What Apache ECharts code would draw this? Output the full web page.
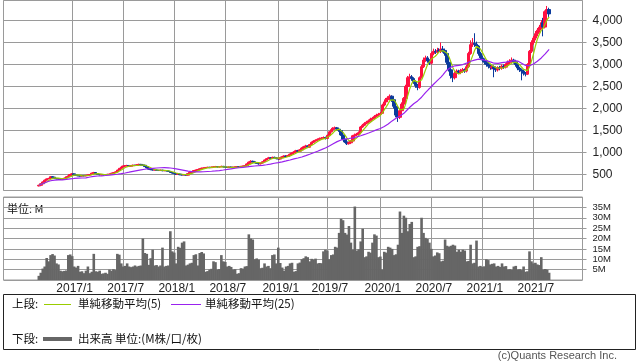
<!DOCTYPE html>
<html><head><meta charset="utf-8">
<script src="https://cdn.jsdelivr.net/npm/echarts@6/dist/echarts.min.js"></script>
<style>html,body{margin:0;padding:0;background:#fff}#c{width:638px;height:362px}</style>
</head><body><div id="c"></div>
<script>
// weekly categories (Mondays) of the axis
const weekStart = '2016-05-02';
const weekCount = 296;
const firstDataWeek = 18; // 2016-09-05

const tickDates = ['2017-01-02','2017-07-03','2018-01-01','2018-07-02','2019-01-07','2019-07-01','2020-01-06','2020-07-06','2021-01-04','2021-07-05'];
const tickLabels = ['2017/1','2017/7','2018/1','2018/7','2019/1','2019/7','2020/1','2020/7','2021/1','2021/7'];

const closes = [
255,290,330,370,400,410,450,440,410,400,
395,390,400,420,450,470,500,515,490,480,
470,465,475,470,480,490,500,530,545,520,
500,490,495,490,500,505,510,530,545,560,
600,640,670,690,700,705,690,700,710,705,
720,730,715,710,680,650,620,610,600,605,
595,590,600,585,590,580,570,545,530,520,
505,510,495,490,500,485,520,550,565,590,
600,615,630,645,650,660,665,655,670,675,
680,670,675,685,670,665,660,670,655,665,
670,680,675,685,690,700,740,780,800,790,
770,750,740,760,790,830,860,880,870,890,
880,860,850,880,900,920,910,930,960,990,
1010,1040,1030,1060,1100,1130,1150,1120,1180,1230,
1260,1280,1300,1320,1330,1340,1320,1390,1470,1520,
1550,1560,1530,1500,1400,1300,1240,1200,1220,1260,
1380,1400,1420,1450,1580,1620,1660,1690,1720,1760,
1780,1820,1850,1870,1890,2080,2150,2200,2240,2280,
2200,2050,1850,1800,1950,2100,2230,2500,2700,2720,
2680,2600,2520,2480,2700,2950,3100,3150,3080,3030,
3250,3300,3280,3320,3300,3350,3320,3250,3050,2880,
2750,2700,2800,2850,2820,2860,2880,2850,2950,3250,
3450,3480,3460,3420,3250,3150,3100,3050,3000,2960,
2930,2950,2900,2880,2930,2920,2960,2940,3000,3050,
3080,3100,3060,3000,2920,2880,2850,2800,2780,3000,
3300,3500,3600,3700,3780,3850,3950,3850,4200,4250,
4150];

const opens = [
240,255,290,330,370,400,410,450,440,410,
400,395,390,400,420,450,470,500,515,490,
480,470,465,475,470,480,490,500,530,545,
520,500,490,495,490,500,505,510,530,545,
560,600,640,670,690,700,705,690,700,710,
705,720,730,715,710,680,650,620,610,600,
605,595,590,600,585,590,580,570,545,530,
520,505,510,495,490,500,485,520,550,565,
590,600,615,630,645,650,660,665,655,670,
675,680,670,675,685,670,665,660,670,655,
665,670,680,675,685,690,700,740,780,800,
790,770,750,740,760,790,830,860,880,870,
890,880,860,850,880,900,920,910,930,960,
990,1010,1040,1030,1060,1100,1130,1150,1120,1180,
1230,1260,1280,1300,1320,1330,1340,1320,1390,1470,
1520,1550,1560,1530,1500,1400,1300,1240,1200,1220,
1260,1380,1400,1420,1450,1580,1620,1660,1690,1720,
1760,1780,1820,1850,1870,1890,2080,2150,2200,2240,
2280,2200,2050,1850,1800,1950,2100,2230,2500,2700,
2720,2680,2600,2520,2480,2700,2950,3100,3150,3080,
3030,3250,3300,3280,3320,3300,3350,3320,3250,3050,
2880,2750,2700,2800,2850,2820,2860,2880,2850,2950,
3250,3450,3480,3460,3420,3250,3150,3100,3050,3000,
2960,2930,2950,2900,2880,2930,2920,2960,2940,3000,
3050,3080,3100,3060,3000,2920,2880,2850,2800,2780,
3000,3300,3500,3600,3700,3780,3850,3950,3850,4200,
4250];

const highs = [
265,300,340,385,410,425,465,460,445,420,
410,405,410,430,460,480,510,530,520,500,
490,480,485,485,490,500,510,540,560,550,
525,505,505,505,510,515,520,540,555,570,
610,650,680,700,715,720,715,710,725,720,
735,745,740,725,715,685,655,630,620,615,
615,605,610,605,600,600,590,575,555,540,
525,520,515,505,510,505,525,560,575,600,
610,625,640,655,660,670,675,675,680,685,
695,690,685,700,695,680,675,680,680,675,
680,690,690,695,700,715,750,795,825,815,
800,780,760,770,800,840,875,900,895,905,
905,890,870,890,915,935,935,945,975,1005,
1030,1060,1060,1075,1120,1150,1175,1160,1195,1250,
1280,1300,1320,1340,1350,1365,1360,1410,1490,1545,
1575,1590,1580,1550,1510,1420,1320,1260,1245,1280,
1400,1430,1445,1480,1600,1650,1690,1720,1750,1790,
1810,1850,1880,1900,1920,2110,2180,2240,2280,2320,
2300,2230,2080,1900,1980,2140,2260,2540,2740,2790,
2760,2710,2640,2560,2730,2990,3160,3200,3190,3120,
3290,3360,3350,3380,3370,3500,3420,3360,3280,3080,
2910,2790,2830,2890,2880,2900,2920,2910,2990,3290,
3550,3600,3710,3520,3440,3290,3200,3140,3090,3040,
3000,2990,2980,2940,2960,2970,3000,3000,3030,3090,
3120,3160,3130,3090,3030,2950,2910,2880,2830,3030,
3330,3550,3650,3760,3830,3900,4010,4060,4230,4330,
4290];

const lows = [
230,250,285,320,360,390,405,430,400,390,
385,380,380,395,415,445,465,495,485,470,
460,455,458,462,462,472,482,495,525,510,
490,482,482,480,482,492,498,505,522,538,
552,592,630,660,680,688,678,680,690,692,
695,710,705,698,670,640,610,598,590,590,
585,580,580,575,575,570,560,535,520,510,
495,495,485,480,482,475,478,512,540,558,
580,592,605,620,635,642,650,645,648,660,
665,660,660,668,660,655,650,650,645,645,
655,660,665,665,675,680,692,730,770,775,
755,738,725,730,750,780,820,850,855,860,
865,845,830,840,870,890,895,900,920,950,
975,1000,1015,1020,1050,1085,1115,1100,1110,1170,
1215,1245,1265,1285,1300,1310,1295,1305,1380,1455,
1500,1530,1510,1470,1380,1280,1220,1170,1180,1200,
1250,1360,1380,1400,1440,1560,1600,1640,1670,1700,
1740,1760,1800,1830,1850,1880,2050,2120,2170,2200,
2150,2000,1800,1695,1760,1920,2070,2200,2460,2650,
2630,2560,2470,2415,2450,2680,2920,3060,3040,2990,
3000,3210,3240,3240,3260,3260,3270,3200,3000,2840,
2680,2600,2660,2760,2780,2780,2820,2810,2820,2920,
3220,3400,3400,3360,3200,3100,3050,3000,2950,2910,
2880,2890,2710,2830,2840,2870,2880,2900,2910,2960,
3010,3040,3020,2950,2870,2830,2640,2750,2730,2760,
2980,3260,3450,3550,3640,3720,3800,3640,3820,4120,
4080];

// volume, millions of shares
const volumes = [
2,3.5,5.5,6.5,10.6,9,12,12.5,11.8,8,
7.5,4.5,4.2,4.4,4.6,12,12.3,11.5,6.5,6,
6.8,4,4.2,3.3,4.5,6.5,3.3,4,12.6,4.2,
4,4.5,3,3.2,3.5,3,5,4.5,5.2,4.8,
12.6,12.2,8,6.5,6.8,8,6.5,6.2,6.5,7,
6.5,6.8,7,20,13,12.6,7.3,10.5,14.6,7,
7.2,6.5,7,15.6,6.5,6.8,7,23.5,13.8,13.2,
8,16,15.5,18,18.6,7,7.4,8,8.3,12,
12.4,7,13,13.5,12.8,4,4.3,5,5.4,9,
8.6,5,5.3,12,9,8.7,6.5,6.8,6.3,5,
5.2,3,3.3,5.7,5.5,6.5,6.7,22,20,19.5,
10,10.4,9.8,5.7,5.9,8,6.5,6.8,5.7,12,
12.3,8,15.6,8.2,6,4.5,6.5,6.8,8,8.3,
4,4.3,8,8.4,10,10.5,11.4,11,9,10.2,
9.8,10.3,8,8.2,8.1,13.8,14.6,14.2,10,12,
12.3,16,15.6,22.7,29.5,28.8,22.7,21.9,26,18,
14.6,35.4,14.2,14.8,18.6,24.7,11,11.4,13.6,13.2,
18,22,21.4,11,11.3,5,13.6,13.2,16,15.6,
15,12,12.4,17,33,22.7,31,30,23.5,27,
28,11,11.4,16,16.3,30,22.7,20.3,19.8,18,
15,11.4,11.8,13.3,12.9,9,9.3,19.5,16.5,16.1,
16.5,17,16.6,13.6,14.6,13.6,14.6,14.2,9,9.2,
17,8,8.3,19,6.5,6.8,6.3,6.6,10,9.6,
7.5,7.8,8,6.5,6.8,6.3,8,6.5,6.7,5,
5.2,4.9,6.5,6.8,5,5.2,4.8,6.5,4,4.2,
13.8,9,8,8.3,7.5,7.2,11,5,5.3,5,
3.5];

// ---- build category axis & padded series ----
const categories = [];
{
  const d0 = new Date(weekStart + 'T00:00:00Z');
  for (let i = 0; i < weekCount; i++) {
    const d = new Date(d0.getTime() + i * 7 * 86400000);
    categories.push(d.toISOString().slice(0, 10));
  }
}
const tickMap = {};
tickDates.forEach((d, i) => { tickMap[d] = tickLabels[i]; });

function movingAvg(arr, n) {
  return arr.map((_, k) => {
    const s = Math.max(0, k - n + 1);
    let sum = 0;
    for (let j = s; j <= k; j++) sum += arr[j];
    return sum / (k - s + 1);
  });
}
const ma5 = movingAvg(closes, 5);
const ma25 = movingAvg(closes, 25);

const candleData = [], volData = [], ma5Data = [], ma25Data = [];
for (let i = 0; i < weekCount; i++) {
  const k = i - firstDataWeek;
  if (k >= 0 && k < closes.length) {
    candleData.push([opens[k], closes[k], lows[k], highs[k]]);
    volData.push({value: volumes[k]});
    ma5Data.push(ma5[k]);
    ma25Data.push(ma25[k]);
  } else {
    candleData.push(['-', '-', '-', '-']);
    volData.push('-');
    ma5Data.push('-');
    ma25Data.push('-');
  }
}

const GRID = '#9a9a9a';
const LATIN = '"Liberation Sans", Arial, sans-serif';
const CJK = '"Noto Sans CJK JP", sans-serif';
const isTick = (idx, val) => tickMap[val] !== undefined;

const chart = echarts.init(document.getElementById('c'), null, {renderer: 'canvas'});
chart.setOption({
  animation: false,
  backgroundColor: '#fff',
  grid: [
    {left: 3.5, top: 0.5, width: 579, height: 190, show: true, borderColor: GRID, borderWidth: 1, backgroundColor: 'transparent', containLabel: false},
    {left: 3.5, top: 197, width: 579, height: 83, show: true, borderColor: GRID, borderWidth: 1, backgroundColor: 'transparent', containLabel: false}
  ],
  xAxis: [
    {type: 'category', gridIndex: 0, data: categories, boundaryGap: false,
     axisLine: {show: false}, axisTick: {show: false}, axisLabel: {show: false},
     splitLine: {show: true, interval: isTick, lineStyle: {color: GRID, width: 1}}},
    {type: 'category', gridIndex: 1, data: categories, boundaryGap: false,
     axisLine: {show: false}, axisTick: {show: false},
     axisLabel: {show: true, interval: isTick, formatter: v => tickMap[v] || '', margin: 3,
                 fontFamily: LATIN, fontSize: 12, color: '#222', padding: [0, 0, 0, 5]},
     splitLine: {show: true, interval: isTick, lineStyle: {color: GRID, width: 1}}}
  ],
  yAxis: [
    {type: 'value', gridIndex: 0, position: 'right', min: 136.4, max: 4454.5,
     minInterval: 500, maxInterval: 500, splitNumber: 9,
     axisLine: {show: false},
     axisTick: {show: true, length: 4, lineStyle: {color: GRID}},
     axisLabel: {show: true, margin: 10, fontFamily: LATIN, fontSize: 12, color: '#222',
                 showMinLabel: false, showMaxLabel: false,
                 formatter: v => Number(v).toLocaleString('en-US')},
     splitLine: {show: true, lineStyle: {color: GRID, width: 1}}},
    {type: 'value', gridIndex: 1, position: 'right', min: 0, max: 40, interval: 5,
     axisLine: {show: false},
     axisTick: {show: true, length: 4, lineStyle: {color: GRID}},
     axisLabel: {show: true, margin: 10, fontFamily: LATIN, fontSize: 9.5, color: '#222',
                 showMinLabel: false, showMaxLabel: false, formatter: v => v + 'M'},
     splitLine: {show: true, lineStyle: {color: GRID, width: 1}}}
  ],
  series: [
    {type: 'candlestick', name: '株価', xAxisIndex: 0, yAxisIndex: 0, data: candleData,
     barWidth: 3,
     itemStyle: {color: '#ff1040', color0: '#0a3a9c', borderColor: '#ff1040', borderColor0: '#0a3a9c', borderWidth: 1}},
    {type: 'line', name: '単純移動平均(5)', xAxisIndex: 0, yAxisIndex: 0, data: ma5Data,
     showSymbol: false, symbol: 'none', lineStyle: {color: '#99cc00', width: 1.2}, z: 3},
    {type: 'line', name: '単純移動平均(25)', xAxisIndex: 0, yAxisIndex: 0, data: ma25Data,
     showSymbol: false, symbol: 'none', lineStyle: {color: '#9922ee', width: 1.2}, z: 3},
    {type: 'bar', name: '出来高', xAxisIndex: 1, yAxisIndex: 1, data: volData,
     barWidth: 2.6, itemStyle: {color: '#666666'}}
  ],
  graphic: [
    {type: 'text', left: 7, top: 203, style: {text: '単位: M', font: '11px ' + CJK, fill: '#111'}},
    {type: 'rect', shape: {x: 3.5, y: 294.5, width: 632, height: 55}, style: {fill: 'none', stroke: '#222', lineWidth: 1}},
    {type: 'text', x: 12, y: 304, style: {text: '上段:', font: '11.5px ' + CJK, fill: '#111', textVerticalAlign: 'middle', verticalAlign: 'middle'}},
    {type: 'line', shape: {x1: 44, y1: 304.5, x2: 71, y2: 304.5}, style: {stroke: '#99cc00', lineWidth: 1}},
    {type: 'text', x: 78, y: 304, style: {text: '単純移動平均(5)', font: '11.5px ' + CJK, fill: '#111', textVerticalAlign: 'middle', verticalAlign: 'middle'}},
    {type: 'line', shape: {x1: 171, y1: 304.5, x2: 201, y2: 304.5}, style: {stroke: '#9922ee', lineWidth: 1}},
    {type: 'text', x: 205, y: 304, style: {text: '単純移動平均(25)', font: '11.5px ' + CJK, fill: '#111', textVerticalAlign: 'middle', verticalAlign: 'middle'}},
    {type: 'text', x: 12, y: 339, style: {text: '下段:', font: '11.5px ' + CJK, fill: '#111', textVerticalAlign: 'middle', verticalAlign: 'middle'}},
    {type: 'line', shape: {x1: 43, y1: 339, x2: 72, y2: 339}, style: {stroke: '#666666', lineWidth: 4}},
    {type: 'text', x: 78, y: 339, style: {text: '出来高 単位:(M株/口/枚)', font: '11.5px ' + CJK, fill: '#111', textVerticalAlign: 'middle', verticalAlign: 'middle'}},
    {type: 'text', x: 617, y: 356, style: {text: '(c)Quants Research Inc.', font: '11px ' + LATIN, fill: '#555', textAlign: 'right', align: 'right', textVerticalAlign: 'middle', verticalAlign: 'middle'}}
  ]
});
</script>
</body></html>
